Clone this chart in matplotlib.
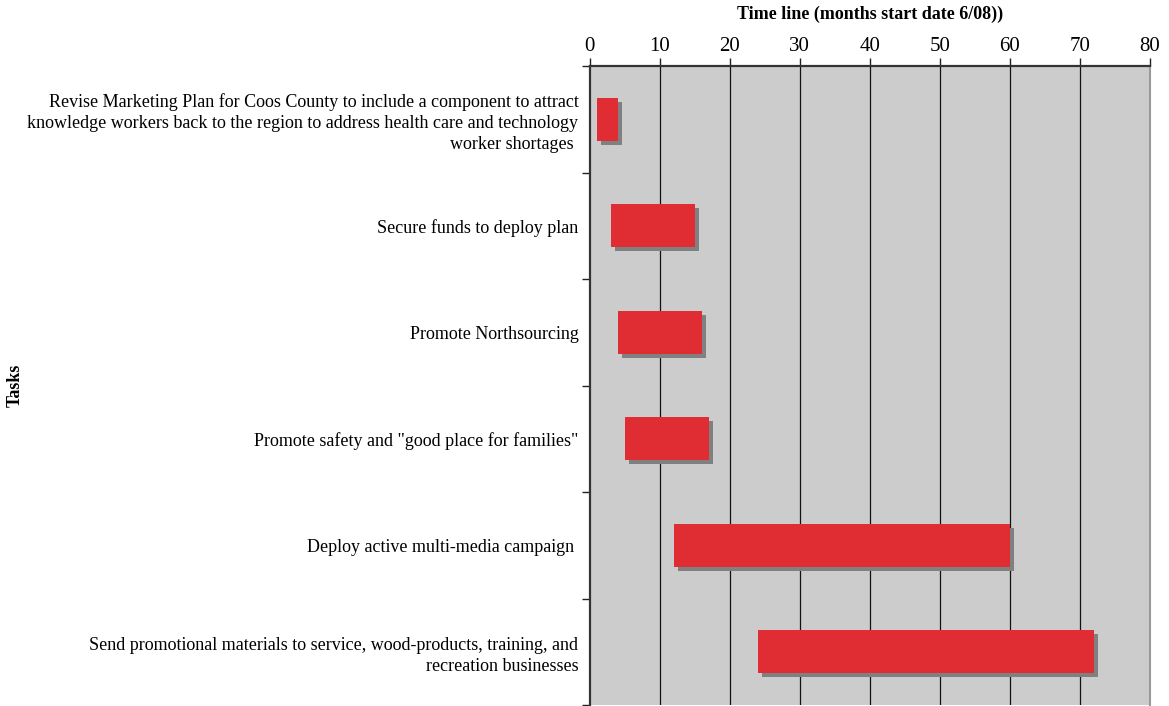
import matplotlib
matplotlib.use("Agg")
import matplotlib.pyplot as plt
import numpy as np

tasks = [
    "Revise Marketing Plan for Coos County to include a component to attract\nknowledge workers back to the region to address health care and technology\nworker shortages ",
    "Secure funds to deploy plan",
    "Promote Northsourcing",
    "Promote safety and \"good place for families\"",
    "Deploy active multi-media campaign ",
    "Send promotional materials to service, wood-products, training, and\nrecreation businesses",
]
start = [1, 3, 4, 5, 12, 24]
finish = [4, 15, 16, 17, 60, 72]
x_ticks = [0, 10, 20, 30, 40, 50, 60, 70, 80]

plt.rcParams['font.family'] = ['Liberation Serif', 'DejaVu Serif']

fig = plt.figure(figsize=(11.69, 7.06), dpi=100)
ax = fig.add_axes([589.5 / 1169, 1 / 706, (1150 - 589.5) / 1169, (705 - 66) / 706])

ypos = np.arange(len(tasks))
dur = np.array(finish) - np.array(start)
h = 0.4
# shadow offsets (in data units)
dx = 4 / 7.0
dy = 4 / 106.5

ax.set_facecolor('#cccccc')
ax.barh(ypos + dy, dur, left=np.array(start) + dx, height=h, color='#808080', zorder=2)
ax.barh(ypos, dur, left=start, height=h, color='#df2d33', zorder=3)

ax.set_xlim(0, 80)
ax.set_ylim(len(tasks) - 0.5, -0.5)
ax.xaxis.tick_top()
ax.xaxis.set_label_position('top')
ax.set_xticks(x_ticks)
ax.set_xticklabels([str(v) for v in x_ticks], fontsize=15)
ax.tick_params(axis='x', length=6, width=1, pad=1, colors='#222222', labelcolor='black')
for v in x_ticks[1:-1]:
    ax.axvline(v, color='#111111', lw=0.9, zorder=1)

ax.set_yticks(np.arange(len(tasks) + 1) - 0.5)
ax.set_yticklabels([])
ax.tick_params(axis='y', which='major', length=6, width=1, colors='#222222')
ax.set_yticks(ypos, minor=True)
ax.set_yticklabels(tasks, minor=True, fontsize=13, linespacing=1.3)
ax.tick_params(axis='y', which='minor', length=0, pad=8)

lab = ax.set_xlabel("Time line (months start date 6/08))", fontsize=13, fontweight='bold')
lab.set_va('center')
ax.xaxis.set_label_coords(0.5, 1 + 52 / 639)
fig.text(15 / 1169, 1 - 385 / 706, "Tasks", rotation=90, fontsize=13, fontweight='bold',
         ha='center', va='center')

ax.spines['top'].set_color('#333333')
ax.spines['top'].set_linewidth(1.6)
ax.spines['left'].set_color('#333333')
ax.spines['left'].set_linewidth(1.6)
ax.spines['right'].set_color('#999999')
ax.spines['right'].set_linewidth(1.5)
ax.spines['bottom'].set_visible(False)

fig.savefig("out.png", dpi=100)
